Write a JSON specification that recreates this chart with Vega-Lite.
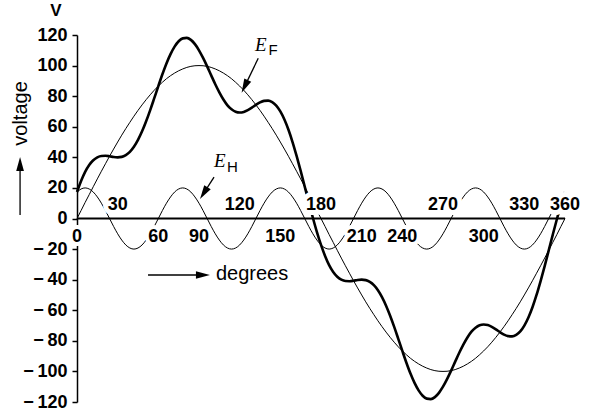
{
  "$schema": "https://vega.github.io/schema/vega-lite/v6.json",
  "width": 488,
  "height": 367,
  "autosize": "none",
  "padding": {"left": 77, "top": 35, "right": 27, "bottom": 13},
  "background": "white",
  "config": {"view": {"stroke": null}, "font": "Liberation Sans",
    "axisY": {"values": [-120,-100,-80,-60,-40,-20,0,20,40,60,80,100,120], "title": null, "grid": false,
      "labelExpr": "datum.value < 0 ? '\u2212\u2009' + format(-datum.value, 'd') : format(datum.value, 'd')",
      "domainColor": "black", "domainWidth": 1.5, "tickColor": "black", "tickWidth": 1.5, "tickSize": 5,
      "labelFont": "Liberation Sans", "labelFontWeight": "bold", "labelFontSize": 18, "labelColor": "black", "labelPadding": 5}},
  "datasets": {
    "curves": [
      {"deg":0,"ef":0,"eh":17.3,"er":17.3},{"deg":3,"ef":5.2,"eh":19.3,"er":24.5},{"deg":6,"ef":10.5,"eh":20,"er":30.5},{"deg":9,"ef":15.6,"eh":19.3,"er":35.0},{"deg":12,"ef":20.8,"eh":17.3,"er":38.1},{"deg":15,"ef":25.9,"eh":14.1,"er":40.0},{"deg":18,"ef":30.9,"eh":10,"er":40.9},{"deg":21,"ef":35.8,"eh":5.2,"er":41.0},{"deg":24,"ef":40.7,"eh":0,"er":40.7},{"deg":27,"ef":45.4,"eh":-5.2,"er":40.2},{"deg":30,"ef":50,"eh":-10,"er":40},{"deg":33,"ef":54.5,"eh":-14.1,"er":40.3},{"deg":36,"ef":58.8,"eh":-17.3,"er":41.5},{"deg":39,"ef":62.9,"eh":-19.3,"er":43.6},{"deg":42,"ef":66.9,"eh":-20,"er":46.9},{"deg":45,"ef":70.7,"eh":-19.3,"er":51.4},{"deg":48,"ef":74.3,"eh":-17.3,"er":57.0},{"deg":51,"ef":77.7,"eh":-14.1,"er":63.6},{"deg":54,"ef":80.9,"eh":-10,"er":70.9},{"deg":57,"ef":83.9,"eh":-5.2,"er":78.7},{"deg":60,"ef":86.6,"eh":0,"er":86.6},{"deg":63,"ef":89.1,"eh":5.2,"er":94.3},{"deg":66,"ef":91.4,"eh":10,"er":101.4},{"deg":69,"ef":93.4,"eh":14.1,"er":107.5},{"deg":72,"ef":95.1,"eh":17.3,"er":112.4},{"deg":75,"ef":96.6,"eh":19.3,"er":115.9},{"deg":78,"ef":97.8,"eh":20,"er":117.8},{"deg":81,"ef":98.8,"eh":19.3,"er":118.1},{"deg":84,"ef":99.5,"eh":17.3,"er":116.8},{"deg":87,"ef":99.9,"eh":14.1,"er":114.0},{"deg":90,"ef":100,"eh":10,"er":110},{"deg":93,"ef":99.9,"eh":5.2,"er":105.0},{"deg":96,"ef":99.5,"eh":0,"er":99.5},{"deg":99,"ef":98.8,"eh":-5.2,"er":93.6},{"deg":102,"ef":97.8,"eh":-10,"er":87.8},{"deg":105,"ef":96.6,"eh":-14.1,"er":82.5},{"deg":108,"ef":95.1,"eh":-17.3,"er":77.8},{"deg":111,"ef":93.4,"eh":-19.3,"er":74.0},{"deg":114,"ef":91.4,"eh":-20,"er":71.4},{"deg":117,"ef":89.1,"eh":-19.3,"er":69.8},{"deg":120,"ef":86.6,"eh":-17.3,"er":69.3},{"deg":123,"ef":83.9,"eh":-14.1,"er":69.7},{"deg":126,"ef":80.9,"eh":-10,"er":70.9},{"deg":129,"ef":77.7,"eh":-5.2,"er":72.5},{"deg":132,"ef":74.3,"eh":0,"er":74.3},{"deg":135,"ef":70.7,"eh":5.2,"er":75.9},{"deg":138,"ef":66.9,"eh":10,"er":76.9},{"deg":141,"ef":62.9,"eh":14.1,"er":77.1},{"deg":144,"ef":58.8,"eh":17.3,"er":76.1},{"deg":147,"ef":54.5,"eh":19.3,"er":73.8},{"deg":150,"ef":50,"eh":20,"er":70},{"deg":153,"ef":45.4,"eh":19.3,"er":64.7},{"deg":156,"ef":40.7,"eh":17.3,"er":58.0},{"deg":159,"ef":35.8,"eh":14.1,"er":50.0},{"deg":162,"ef":30.9,"eh":10,"er":40.9},{"deg":165,"ef":25.9,"eh":5.2,"er":31.1},{"deg":168,"ef":20.8,"eh":0,"er":20.8},{"deg":171,"ef":15.6,"eh":-5.2,"er":10.5},{"deg":174,"ef":10.5,"eh":-10,"er":0.5},{"deg":177,"ef":5.2,"eh":-14.1,"er":-8.9},{"deg":180,"ef":0,"eh":-17.3,"er":-17.3},
      {"deg":183,"ef":-5.2,"eh":-19.3,"er":-24.5},{"deg":186,"ef":-10.5,"eh":-20,"er":-30.5},{"deg":189,"ef":-15.6,"eh":-19.3,"er":-35.0},{"deg":192,"ef":-20.8,"eh":-17.3,"er":-38.1},{"deg":195,"ef":-25.9,"eh":-14.1,"er":-40.0},{"deg":198,"ef":-30.9,"eh":-10,"er":-40.9},{"deg":201,"ef":-35.8,"eh":-5.2,"er":-41.0},{"deg":204,"ef":-40.7,"eh":0,"er":-40.7},{"deg":207,"ef":-45.4,"eh":5.2,"er":-40.2},{"deg":210,"ef":-50,"eh":10,"er":-40},{"deg":213,"ef":-54.5,"eh":14.1,"er":-40.3},{"deg":216,"ef":-58.8,"eh":17.3,"er":-41.5},{"deg":219,"ef":-62.9,"eh":19.3,"er":-43.6},{"deg":222,"ef":-66.9,"eh":20,"er":-46.9},{"deg":225,"ef":-70.7,"eh":19.3,"er":-51.4},{"deg":228,"ef":-74.3,"eh":17.3,"er":-57.0},{"deg":231,"ef":-77.7,"eh":14.1,"er":-63.6},{"deg":234,"ef":-80.9,"eh":10,"er":-70.9},{"deg":237,"ef":-83.9,"eh":5.2,"er":-78.7},{"deg":240,"ef":-86.6,"eh":0,"er":-86.6},{"deg":243,"ef":-89.1,"eh":-5.2,"er":-94.3},{"deg":246,"ef":-91.4,"eh":-10,"er":-101.4},{"deg":249,"ef":-93.4,"eh":-14.1,"er":-107.5},{"deg":252,"ef":-95.1,"eh":-17.3,"er":-112.4},{"deg":255,"ef":-96.6,"eh":-19.3,"er":-115.9},{"deg":258,"ef":-97.8,"eh":-20,"er":-117.8},{"deg":261,"ef":-98.8,"eh":-19.3,"er":-118.1},{"deg":264,"ef":-99.5,"eh":-17.3,"er":-116.8},{"deg":267,"ef":-99.9,"eh":-14.1,"er":-114.0},{"deg":270,"ef":-100,"eh":-10,"er":-110},{"deg":273,"ef":-99.9,"eh":-5.2,"er":-105.0},{"deg":276,"ef":-99.5,"eh":0,"er":-99.5},{"deg":279,"ef":-98.8,"eh":5.2,"er":-93.6},{"deg":282,"ef":-97.8,"eh":10,"er":-87.8},{"deg":285,"ef":-96.6,"eh":14.1,"er":-82.5},{"deg":288,"ef":-95.1,"eh":17.3,"er":-77.8},{"deg":291,"ef":-93.4,"eh":19.3,"er":-74.0},{"deg":294,"ef":-91.4,"eh":20,"er":-71.4},{"deg":297,"ef":-89.1,"eh":19.3,"er":-69.8},{"deg":300,"ef":-86.6,"eh":17.3,"er":-69.3},{"deg":303,"ef":-83.9,"eh":14.1,"er":-69.7},{"deg":306,"ef":-80.9,"eh":10,"er":-70.9},{"deg":309,"ef":-77.7,"eh":5.2,"er":-72.5},{"deg":312,"ef":-74.3,"eh":0,"er":-74.3},{"deg":315,"ef":-70.7,"eh":-5.2,"er":-75.9},{"deg":318,"ef":-66.9,"eh":-10,"er":-76.9},{"deg":321,"ef":-62.9,"eh":-14.1,"er":-77.1},{"deg":324,"ef":-58.8,"eh":-17.3,"er":-76.1},{"deg":327,"ef":-54.5,"eh":-19.3,"er":-73.8},{"deg":330,"ef":-50,"eh":-20,"er":-70},{"deg":333,"ef":-45.4,"eh":-19.3,"er":-64.7},{"deg":336,"ef":-40.7,"eh":-17.3,"er":-58.0},{"deg":339,"ef":-35.8,"eh":-14.1,"er":-50.0},{"deg":342,"ef":-30.9,"eh":-10,"er":-40.9},{"deg":345,"ef":-25.9,"eh":-5.2,"er":-31.1},{"deg":348,"ef":-20.8,"eh":0,"er":-20.8},{"deg":351,"ef":-15.6,"eh":5.2,"er":-10.5},{"deg":354,"ef":-10.5,"eh":10,"er":-0.5},{"deg":357,"ef":-5.2,"eh":14.1,"er":8.9},{"deg":360,"ef":0,"eh":17.3,"er":17.3}
    ],
    "ticks": [
      {"deg":0},{"deg":30},{"deg":60},{"deg":90},{"deg":120},{"deg":150},{"deg":180},{"deg":210},{"deg":240},{"deg":270},{"deg":300},{"deg":330},{"deg":360}
    ],
    "baseline": [{"from": 0, "to": 360, "v": 0}],
    "shafts": [
      {"deg":133.7,"v":104.8,"deg2":123.7,"v2":86.4},
      {"deg":101.1,"v":27.1,"deg2":93.5,"v2":16.6},
      {"deg":52.4,"v":-36.95,"deg2":92.9,"v2":-36.95},
      {"deg":-42,"v":2.3,"deg2":-42,"v2":35.6}
    ],
    "heads": [
      {"deg":123.7,"v":86.4,"dir":206},
      {"deg":93.5,"v":16.6,"dir":212.5},
      {"deg":92.9,"v":-36.95,"dir":90},
      {"deg":-42,"v":35.6,"dir":0}
    ]
  },
  "encoding": {
    "x": {"type": "quantitative", "scale": {"domain": [0, 360], "nice": false, "zero": false}, "axis": null},
    "y": {"type": "quantitative", "scale": {"domain": [-120, 120], "nice": false}}
  },
  "layer": [
    {
      "data": {"name": "curves"},
      "mark": {"type": "line", "color": "black", "strokeWidth": 1, "interpolate": "monotone"},
      "encoding": {"x": {"field": "deg", "type": "quantitative"}, "y": {"field": "ef", "type": "quantitative"}}
    },
    {
      "data": {"name": "curves"},
      "mark": {"type": "line", "color": "black", "strokeWidth": 1, "interpolate": "monotone"},
      "encoding": {"x": {"field": "deg", "type": "quantitative"}, "y": {"field": "eh", "type": "quantitative"}}
    },
    {
      "data": {"name": "curves"},
      "mark": {"type": "line", "color": "black", "strokeWidth": 2.6, "interpolate": "monotone"},
      "encoding": {"x": {"field": "deg", "type": "quantitative"}, "y": {"field": "er", "type": "quantitative"}}
    },
    {
      "data": {"name": "baseline"},
      "mark": {"type": "rule", "color": "black", "strokeWidth": 2},
      "encoding": {"x": {"field": "from", "type": "quantitative"}, "x2": {"field": "to"}, "y": {"field": "v", "type": "quantitative"}}
    },
    {
      "data": {"name": "ticks"},
      "transform": [{"filter": {"field": "deg", "oneOf": [0, 60, 90, 150, 210, 240, 300]}}],
      "mark": {"type": "text", "font": "Liberation Sans", "fontWeight": "bold", "fontSize": 18, "baseline": "alphabetic", "align": "center", "dy": 23, "stroke": "white", "strokeWidth": 8, "strokeJoin": "round", "fill": "white"},
      "encoding": {"x": {"field": "deg", "type": "quantitative"}, "y": {"datum": 0}, "text": {"field": "deg", "type": "nominal"}}
    },
    {
      "data": {"name": "ticks"},
      "transform": [{"filter": {"field": "deg", "oneOf": [0, 60, 90, 150, 210, 240, 300]}}],
      "mark": {"type": "text", "font": "Liberation Sans", "fontWeight": "bold", "fontSize": 18, "baseline": "alphabetic", "align": "center", "dy": 23, "color": "black"},
      "encoding": {"x": {"field": "deg", "type": "quantitative"}, "y": {"datum": 0}, "text": {"field": "deg", "type": "nominal"}}
    },
    {
      "data": {"name": "ticks"},
      "transform": [{"filter": {"field": "deg", "oneOf": [30, 120, 180, 270, 330, 360]}}],
      "mark": {"type": "text", "font": "Liberation Sans", "fontWeight": "bold", "fontSize": 18, "baseline": "alphabetic", "align": "center", "dy": -8.5, "stroke": "white", "strokeWidth": 10, "strokeJoin": "round", "fill": "white"},
      "encoding": {"x": {"field": "deg", "type": "quantitative"}, "y": {"datum": 0}, "text": {"field": "deg", "type": "nominal"}}
    },
    {
      "data": {"name": "ticks"},
      "transform": [{"filter": {"field": "deg", "oneOf": [30, 120, 180, 270, 330, 360]}}],
      "mark": {"type": "text", "font": "Liberation Sans", "fontWeight": "bold", "fontSize": 18, "baseline": "alphabetic", "align": "center", "dy": -8.5, "color": "black"},
      "encoding": {"x": {"field": "deg", "type": "quantitative"}, "y": {"datum": 0}, "text": {"field": "deg", "type": "nominal"}}
    },
    {
      "data": {"values": [{"t": "V", "deg": -15.5, "v": 135.7}]},
      "mark": {"type": "text", "font": "Liberation Sans", "fontWeight": "bold", "fontSize": 17, "align": "center", "baseline": "middle", "color": "black"},
      "encoding": {"x": {"field": "deg", "type": "quantitative"}, "y": {"field": "v", "type": "quantitative"}, "text": {"field": "t"}}
    },
    {
      "data": {"values": [{"t": "voltage", "deg": -41.3, "v": 68.7}]},
      "mark": {"type": "text", "font": "Liberation Sans", "fontSize": 20, "align": "center", "baseline": "middle", "angle": 270, "color": "black"},
      "encoding": {"x": {"field": "deg", "type": "quantitative"}, "y": {"field": "v", "type": "quantitative"}, "text": {"field": "t"}}
    },
    {
      "data": {"values": [{"t": "degrees", "deg": 102.5, "v": -40.2}]},
      "mark": {"type": "text", "font": "Liberation Sans", "fontSize": 20, "align": "left", "baseline": "alphabetic", "color": "black"},
      "encoding": {"x": {"field": "deg", "type": "quantitative"}, "y": {"field": "v", "type": "quantitative"}, "text": {"field": "t"}}
    },
    {
      "data": {"values": [{"t": "E", "deg": 131.3, "v": 109.5}, {"t": "E", "deg": 101.1, "v": 33.9}]},
      "mark": {"type": "text", "font": "Liberation Serif", "fontStyle": "italic", "fontSize": 19, "align": "left", "baseline": "alphabetic", "color": "black"},
      "encoding": {"x": {"field": "deg", "type": "quantitative"}, "y": {"field": "v", "type": "quantitative"}, "text": {"field": "t"}}
    },
    {
      "data": {"values": [{"t": "F", "deg": 141.2, "v": 106.9}, {"t": "H", "deg": 110.6, "v": 30.6}]},
      "mark": {"type": "text", "font": "Liberation Sans", "fontSize": 15, "align": "left", "baseline": "alphabetic", "color": "black"},
      "encoding": {"x": {"field": "deg", "type": "quantitative"}, "y": {"field": "v", "type": "quantitative"}, "text": {"field": "t"}}
    },
    {
      "data": {"name": "shafts"},
      "mark": {"type": "rule", "color": "black", "strokeWidth": 1.3},
      "encoding": {"x": {"field": "deg", "type": "quantitative"}, "y": {"field": "v", "type": "quantitative"}, "x2": {"field": "deg2"}, "y2": {"field": "v2"}}
    },
    {
      "data": {"name": "heads"},
      "mark": {"type": "point", "shape": "M0,-1L0.55,1L-0.55,1Z", "filled": true, "color": "black", "size": 196, "opacity": 1, "strokeWidth": 0},
      "encoding": {"x": {"field": "deg", "type": "quantitative"}, "y": {"field": "v", "type": "quantitative"}, "angle": {"field": "dir", "type": "quantitative", "scale": null}}
    }
  ]
}
